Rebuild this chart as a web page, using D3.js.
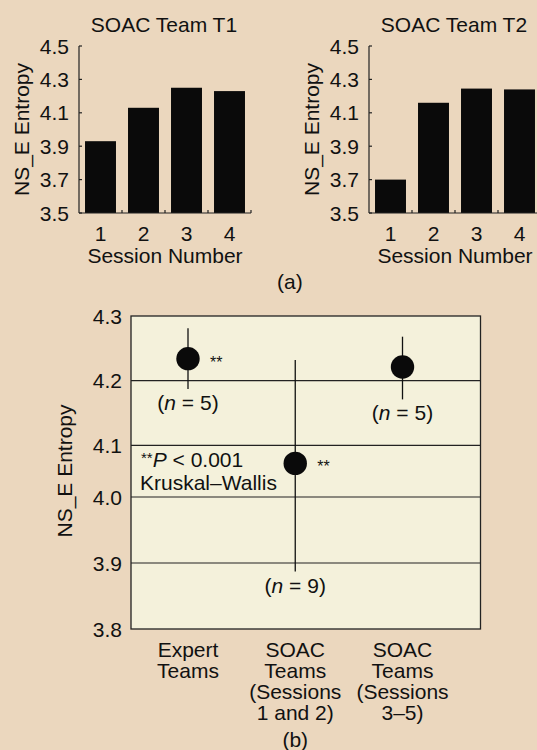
<!DOCTYPE html>
<html>
<head>
<meta charset="utf-8">
<script src="https://cdn.jsdelivr.net/npm/d3@7"></script>
<style>
  body { margin: 0; background: #ebd7be; }
  svg { display: block; }
  text { font-family: "Liberation Sans", Arial, Helvetica, sans-serif; fill: #111; }
</style>
</head>
<body>
<div id="wrapper"></div>
<script>
// panel (a) data
const sessions = ["1", "2", "3", "4"];
const t1Values = [3.93, 4.13, 4.25, 4.23];
const t2Values = [3.70, 4.16, 4.245, 4.24];
const aTicks = [3.5, 3.7, 3.9, 4.1, 4.3, 4.5];

// panel (b) data
const groups = ["Expert Teams", "SOAC Teams (Sessions 1 and 2)", "SOAC Teams (Sessions 3–5)"];
const groupLines = [["Expert", "Teams"], ["SOAC", "Teams", "(Sessions", "1 and 2)"], ["SOAC", "Teams", "(Sessions", "3–5)"]];
const means = [4.234, 4.065, 4.221];
const lows = [4.187, 3.887, 4.171];
const highs = [4.281, 4.232, 4.268];
const nCounts = [5, 9, 5];
const marks = ["**", "**", ""];
const bTicks = [3.8, 3.9, 4.0, 4.1, 4.2, 4.3];

function draw() {
  const width = 537, height = 750;
  const svg = d3.select("#wrapper").append("svg")
    .attr("width", width)
    .attr("height", height);

  // ---- panel (a): two small bar charts ----
  const barPanel = (left, title, values) => {
    const top = 46, bottom = 213, w = 172;
    const g = svg.append("g").attr("transform", "translate(" + left + ",0)");
    const x = d3.scaleBand().domain(sessions).range([0, w]).paddingInner(0.28).paddingOuter(0.14);
    const y = d3.scaleLinear().domain([3.5, 4.5]).range([bottom, top]);

    g.selectAll("rect")
      .data(values)
      .enter()
      .append("rect")
      .attr("x", (d, i) => x(sessions[i]))
      .attr("y", d => y(d))
      .attr("width", x.bandwidth())
      .attr("height", d => y(3.5) - y(d))
      .attr("fill", "#0a0a0a");

    // y axis: line, small inward ticks, labels
    g.append("line").attr("x1", 0).attr("x2", 0).attr("y1", top).attr("y2", bottom)
      .attr("stroke", "#222").attr("stroke-width", 1.2);
    g.selectAll(".yt").data(aTicks).enter().append("line")
      .attr("x1", 0).attr("x2", 3).attr("y1", d => y(d)).attr("y2", d => y(d))
      .attr("stroke", "#222").attr("stroke-width", 1.2);
    g.selectAll(".yl").data(aTicks).enter().append("text")
      .attr("x", -10).attr("y", d => y(d) + 7.5)
      .attr("text-anchor", "end")
      .attr("font-size", 21)
      .text(d => d.toFixed(1));

    // x axis: line, boundary ticks, labels
    g.append("line").attr("x1", 0).attr("x2", w).attr("y1", bottom).attr("y2", bottom)
      .attr("stroke", "#222").attr("stroke-width", 1.2);
    g.selectAll(".xt").data(sessions).enter().append("line")
      .attr("x1", (d, i) => (i + 1) * x.step()).attr("x2", (d, i) => (i + 1) * x.step())
      .attr("y1", bottom).attr("y2", bottom - 3)
      .attr("stroke", "#222").attr("stroke-width", 1.2);
    g.selectAll(".xl").data(sessions).enter().append("text")
      .attr("x", d => x(d) + x.bandwidth() / 2).attr("y", bottom + 28)
      .attr("text-anchor", "middle")
      .attr("font-size", 21)
      .text(d => d);

    g.append("text")
      .attr("x", 86).attr("y", 263)
      .attr("text-anchor", "middle").attr("font-size", 21)
      .text("Session Number");
    g.append("text")
      .attr("x", 85).attr("y", 32)
      .attr("text-anchor", "middle").attr("font-size", 21)
      .text(title);
    g.append("text")
      .attr("transform", "translate(-50," + ((top + bottom) / 2) + ") rotate(-90)")
      .attr("text-anchor", "middle").attr("font-size", 21)
      .text("NS_E Entropy");
  };

  barPanel(79, "SOAC Team T1", t1Values);
  barPanel(369, "SOAC Team T2", t2Values);

  svg.append("text").attr("x", 277).attr("y", 289).attr("font-size", 21).text("(a)");

  // ---- panel (b): means with error bars ----
  const L = 131, R = 480.5;
  // the printed axis is not evenly spaced, so the scale follows the printed gridlines
  const y = d3.scaleLinear().domain([3.8, 4.0, 4.1, 4.3]).range([629, 497, 445.3, 316]);
  const x = d3.scalePoint().domain(groups).range([L + 57, R - 78]);

  svg.append("rect")
    .attr("x", L).attr("y", y(4.3))
    .attr("width", R - L).attr("height", y(3.8) - y(4.3))
    .attr("fill", "#f4f1db")
    .attr("stroke", "#222").attr("stroke-width", 1.3);

  svg.selectAll(".grid").data(bTicks.slice(1, -1)).enter().append("line")
    .attr("x1", L).attr("x2", R)
    .attr("y1", d => y(d)).attr("y2", d => y(d))
    .attr("stroke", "#222").attr("stroke-width", 1.2);

  svg.selectAll(".byl").data(bTicks).enter().append("text")
    .attr("x", L - 9).attr("y", d => y(d) + 7.5)
    .attr("text-anchor", "end").attr("font-size", 21)
    .text(d => d.toFixed(1));

  svg.append("text")
    .attr("transform", "translate(72,471) rotate(-90)")
    .attr("text-anchor", "middle").attr("font-size", 21)
    .text("NS_E Entropy");

  // error bars and dots
  svg.selectAll(".err").data(groups).enter().append("line")
    .attr("x1", d => x(d)).attr("x2", d => x(d))
    .attr("y1", (d, i) => y(highs[i])).attr("y2", (d, i) => y(lows[i]))
    .attr("stroke", "#111").attr("stroke-width", 1.3);
  svg.selectAll(".dot").data(groups).enter().append("circle")
    .attr("cx", d => x(d)).attr("cy", (d, i) => y(means[i]))
    .attr("r", 11.7).attr("fill", "#0a0a0a");
  svg.selectAll(".sig").data(groups).enter().append("text")
    .attr("x", d => x(d) + 22).attr("y", (d, i) => y(means[i]) + 9)
    .attr("font-size", 16)
    .text((d, i) => marks[i]);

  const nText = svg.selectAll(".n").data(groups).enter().append("text")
    .attr("x", d => x(d)).attr("y", (d, i) => y(lows[i]) + 21)
    .attr("text-anchor", "middle").attr("font-size", 21);
  nText.append("tspan").text("(");
  nText.append("tspan").attr("font-style", "italic").text("n");
  nText.append("tspan").text((d, i) => " = " + nCounts[i] + ")");

  // significance note
  const note = svg.append("text").attr("x", 141).attr("y", 467).attr("font-size", 21);
  note.append("tspan").attr("font-size", 15).attr("dy", -4).text("**");
  note.append("tspan").attr("font-style", "italic").attr("dy", 4).text("P");
  note.append("tspan").text(" < 0.001");
  svg.append("text").attr("x", 140).attr("y", 490).attr("font-size", 21).text("Kruskal–Wallis");

  // category labels
  groupLines.forEach((lines, i) => {
    const t = svg.append("text")
      .attr("x", x(groups[i])).attr("y", 657)
      .attr("text-anchor", "middle").attr("font-size", 21);
    lines.forEach((s, j) => {
      t.append("tspan").attr("x", x(groups[i])).attr("dy", j === 0 ? 0 : 21).text(s);
    });
  });

  svg.append("text").attr("x", x(groups[1])).attr("y", 747)
    .attr("text-anchor", "middle").attr("font-size", 21).text("(b)");
}
draw();
</script>
</body>
</html>
